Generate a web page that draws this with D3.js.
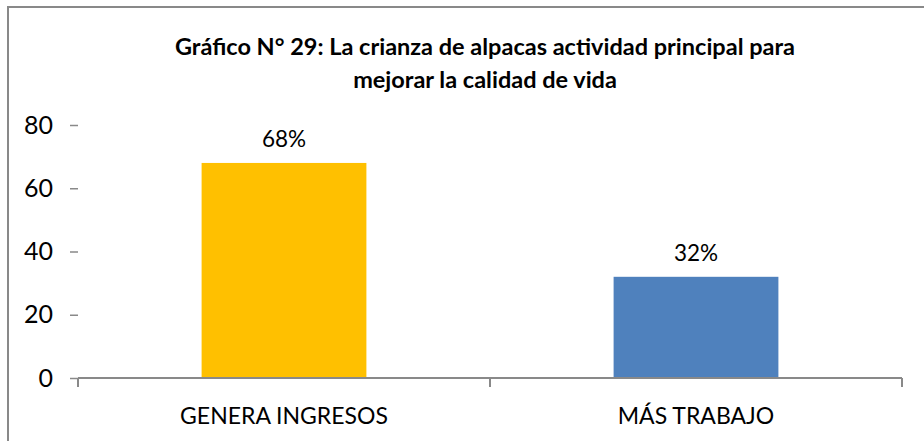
<!DOCTYPE html>
<html>
<head>
<meta charset="utf-8">
<script src="https://cdn.jsdelivr.net/npm/d3@7"></script>
<style>
  html, body { margin: 0; padding: 0; background: #fff; }
  svg { display: block; }
  text { font-family: Lato, "Open Sans", sans-serif; fill: #000; }
</style>
</head>
<body>
<svg id="chart" width="924" height="441"></svg>
<script>
// Survey results: main reason alpaca raising improves quality of life
const categories = ["GENERA INGRESOS", "MÁS TRABAJO"];
const values = [68, 32];
const valueLabels = ["68%", "32%"];
const barColors = ["#FFC000", "#4F81BD"];
const yTicks = [0, 20, 40, 60, 80];
const titleLines = [
  "Gráfico N° 29: La crianza de alpacas actividad principal para",
  "mejorar la calidad de vida"
];

const svg = d3.select("#chart");
const W = 924, H = 441;

// outer frame of the chart area
svg.append("rect")
  .attr("x", 8).attr("y", 7)
  .attr("width", W + 10).attr("height", H + 10)
  .attr("fill", "#fff")
  .attr("stroke", "#898989")
  .attr("stroke-width", 2);

const plot = { left: 78, right: 902, top: 125, bottom: 378 };

const x = d3.scaleBand()
  .domain(categories)
  .range([plot.left, plot.right])
  .paddingInner(0.6)
  .paddingOuter(0.3);

const y = d3.scaleLinear()
  .domain([0, 80])
  .range([plot.bottom, plot.top]);

// title
svg.append("g")
  .selectAll("text")
  .data(titleLines)
  .join("text")
  .attr("x", 485)
  .attr("y", (d, i) => 55 + i * 33)
  .attr("text-anchor", "middle")
  .attr("font-weight", "bold")
  .attr("font-size", 23.5)
  .text(d => d);

// y axis: tick marks and labels only
const yAxis = svg.append("g")
  .attr("transform", `translate(${plot.left},0)`)
  .call(d3.axisLeft(y).tickValues(yTicks).tickSize(8).tickPadding(17));
yAxis.select(".domain").remove();
yAxis.selectAll(".tick line").attr("stroke", "#898989").attr("stroke-width", 1.5);
yAxis.selectAll(".tick text")
  .attr("font-size", 25)
  .attr("font-family", "Lato, 'Open Sans', sans-serif")
  .attr("fill", "#000");

// bars
svg.append("g")
  .selectAll("rect")
  .data(values)
  .join("rect")
  .attr("x", (d, i) => x(categories[i]))
  .attr("y", d => y(d))
  .attr("width", x.bandwidth())
  .attr("height", d => y(0) - y(d))
  .attr("fill", (d, i) => barColors[i]);

// value labels
svg.append("g")
  .selectAll("text")
  .data(values)
  .join("text")
  .attr("x", (d, i) => x(categories[i]) + x.bandwidth() / 2)
  .attr("y", d => y(d) - 16)
  .attr("text-anchor", "middle")
  .attr("font-size", 22.5)
  .text((d, i) => valueLabels[i]);

// x axis: baseline with tick marks between categories
const xEdges = d3.range(categories.length + 1).map(i => plot.left + i * (plot.right - plot.left) / categories.length);
const xAxis = svg.append("g");
xAxis.append("line")
  .attr("x1", plot.left).attr("x2", plot.right)
  .attr("y1", y(0)).attr("y2", y(0))
  .attr("stroke", "#898989").attr("stroke-width", 2);
xAxis.selectAll("line.tick")
  .data(xEdges)
  .join("line")
  .attr("class", "tick")
  .attr("x1", d => d).attr("x2", d => d)
  .attr("y1", y(0)).attr("y2", y(0) + 9)
  .attr("stroke", "#898989").attr("stroke-width", 2);

// category labels
svg.append("g")
  .selectAll("text")
  .data(categories)
  .join("text")
  .attr("x", d => x(d) + x.bandwidth() / 2)
  .attr("y", 424)
  .attr("text-anchor", "middle")
  .attr("font-size", 23)
  .text(d => d);
</script>
</body>
</html>
